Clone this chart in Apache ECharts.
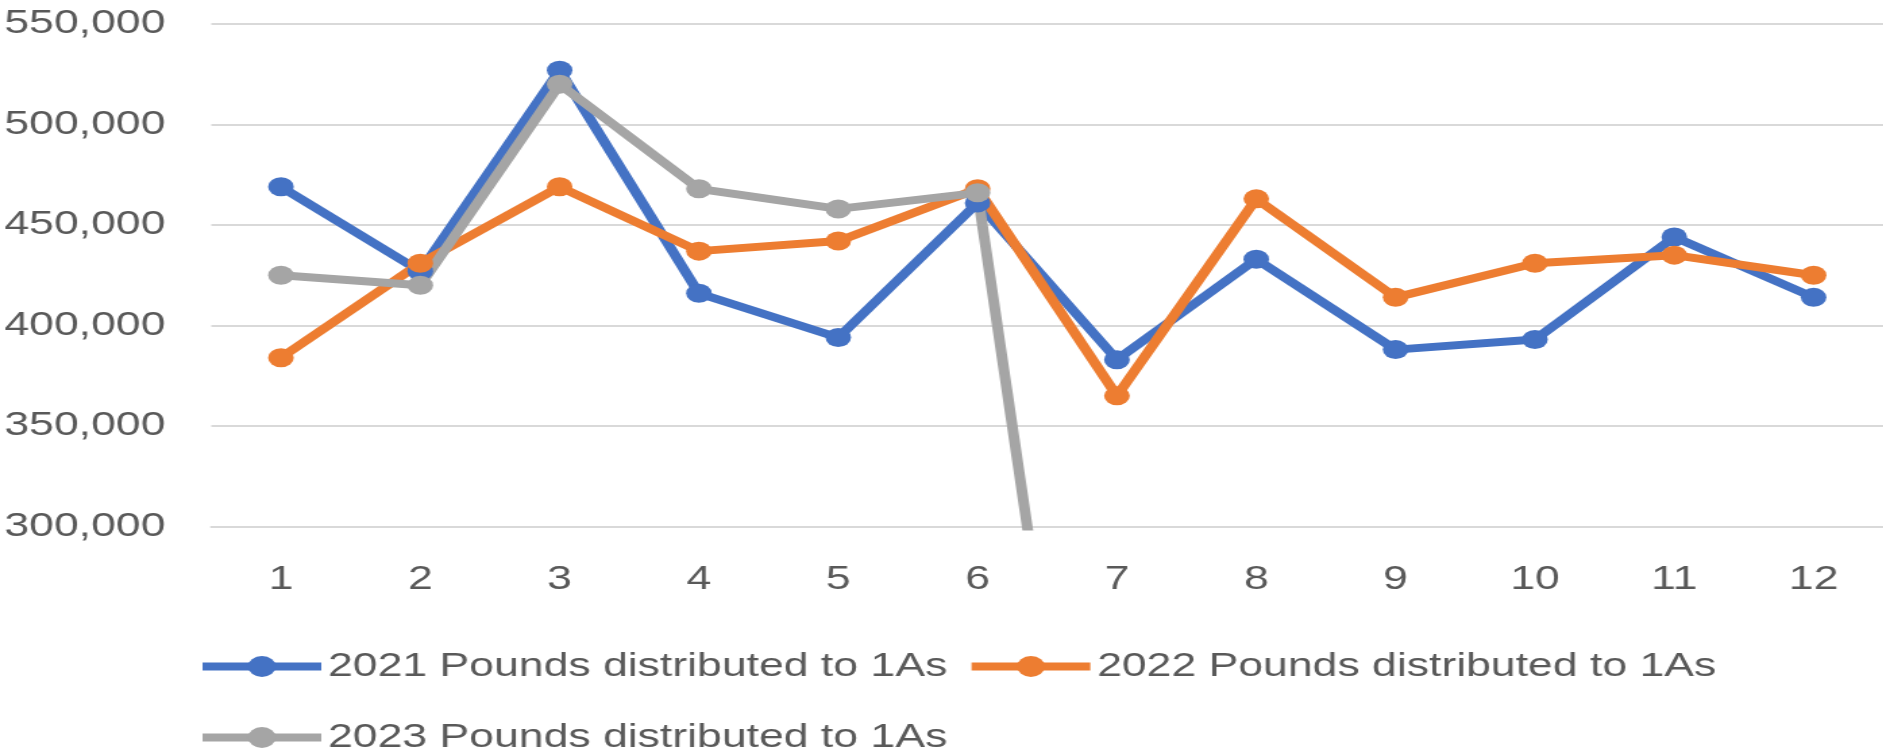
<!DOCTYPE html>
<html>
<head>
<meta charset="utf-8">
<script src="https://cdn.jsdelivr.net/npm/echarts@6/dist/echarts.min.js"></script>
<style>
  html, body { margin: 0; padding: 0; background: #fff; overflow: hidden; }
  /* the reference is stretched horizontally, so the chart is drawn narrower and widened */
  #chart { width: 1395px; height: 756px; transform: scaleX(1.35); transform-origin: 0 0; }
</style>
</head>
<body>
<div id="chart"></div>
<script>
// months
const months = ['1', '2', '3', '4', '5', '6', '7', '8', '9', '10', '11', '12'];

// pounds distributed per month
const lbs2021 = [469000, 427000, 527000, 416000, 394000, 461000, 383000, 433000, 388000, 393000, 444000, 414000];
const lbs2022 = [384000, 431000, 469000, 437000, 442000, 468000, 365000, 463000, 414000, 431000, 435000, 425000];
const lbs2023 = [425000, 420000, 520000, 468000, 458000, 466000, 0, null, null, null, null, null];

const names = [
    '2021 Pounds distributed to 1As',
    '2022 Pounds distributed to 1As',
    '2023 Pounds distributed to 1As'
];
const colors = ['#4472C4', '#ED7D31', '#A5A5A5'];

const font = '"Liberation Sans", Arial, sans-serif';

const chart = echarts.init(document.getElementById('chart'));

function lineSeries(name, data, color) {
    return {
        name: name,
        type: 'line',
        data: data,
        symbol: 'circle',
        symbolSize: 19,
        clip: true,
        connectNulls: false,
        lineStyle: { color: color, width: 8 },
        itemStyle: { color: color },
        emphasis: { disabled: true }
    };
}

const legendBase = {
    left: 141,
    orient: 'horizontal',
    itemWidth: 88,
    itemHeight: 26,
    itemGap: 14,
    lineStyle: { width: 8 },
    textStyle: { fontFamily: font, fontSize: 33, color: '#595959' }
};

const option = {
    animation: false,
    color: colors,
    textStyle: { fontFamily: font },
    grid: { left: 156.5, right: 0, top: 24, bottom: 229.5, containLabel: false },
    legend: [
        Object.assign({}, legendBase, { top: 645, data: [names[0], names[1]] }),
        Object.assign({}, legendBase, { top: 716, data: [names[2]] })
    ],
    xAxis: {
        type: 'category',
        data: months,
        boundaryGap: true,
        axisLine: { show: true, lineStyle: { color: '#D9D9D9', width: 2 } },
        axisTick: { show: false },
        axisLabel: { margin: 37, fontSize: 33, color: '#595959', fontFamily: font }
    },
    yAxis: {
        type: 'value',
        min: 300000,
        max: 550000,
        interval: 50000,
        axisLine: { show: false },
        axisTick: { show: false },
        splitLine: { lineStyle: { color: '#D9D9D9', width: 2 } },
        axisLabel: {
            margin: 34,
            fontSize: 33,
            color: '#595959',
            fontFamily: font,
            formatter: v => v.toLocaleString('en-US')
        }
    },
    series: [
        lineSeries(names[0], lbs2021, colors[0]),
        lineSeries(names[1], lbs2022, colors[1]),
        lineSeries(names[2], lbs2023, colors[2])
    ]
};

chart.setOption(option);
</script>
</body>
</html>
